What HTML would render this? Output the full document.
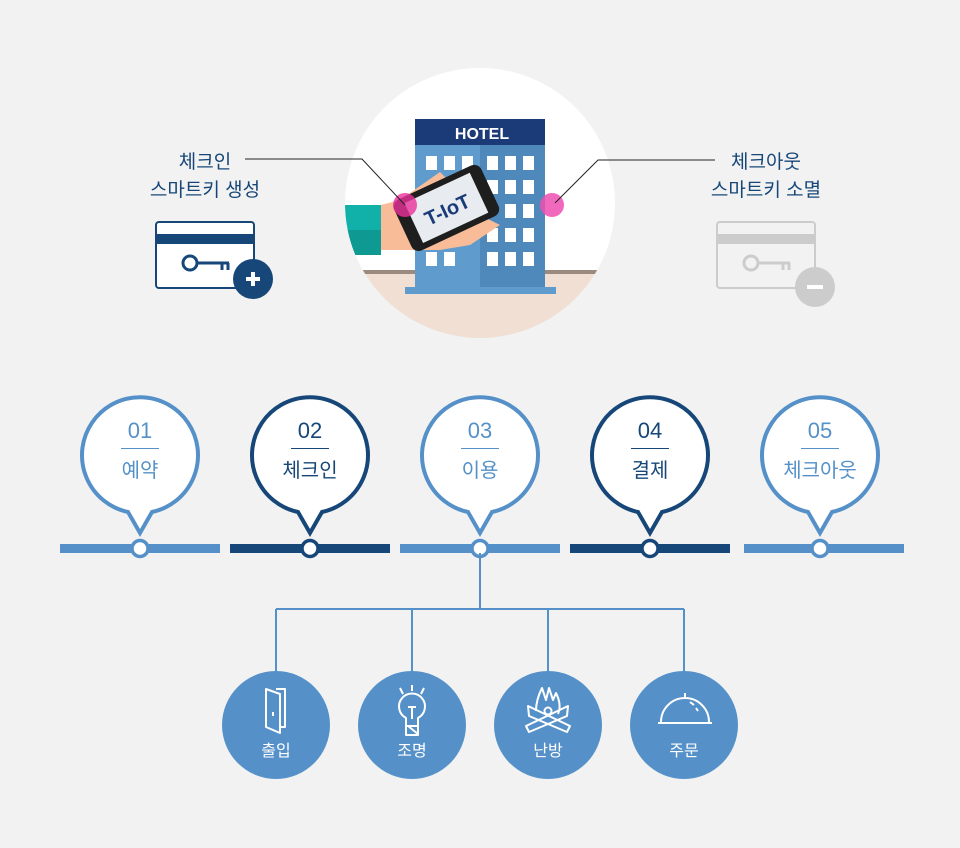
<!DOCTYPE html>
<html><head><meta charset="utf-8"><style>
html,body{margin:0;padding:0;background:#f2f2f2;}
svg{display:block;font-family:"Liberation Sans","Noto Sans CJK KR",sans-serif;}
</style></head><body>
<svg width="960" height="848" viewBox="0 0 960 848" xmlns="http://www.w3.org/2000/svg">
<rect width="960" height="848" fill="#f2f2f2"/>
<defs><clipPath id="cc"><circle cx="480" cy="203" r="135"/></clipPath></defs>
<!-- hotel circle -->
<circle cx="480" cy="203" r="135" fill="#fff"/>
<g clip-path="url(#cc)">
<rect x="340" y="271" width="290" height="80" fill="#f0dfd2"/>
<rect x="340" y="270" width="290" height="4" fill="#9a8a80"/>
<rect x="415" y="119" width="130" height="28" fill="#1b3b78"/>
<rect x="415" y="145" width="65" height="143" fill="#5f9ccd"/>
<rect x="480" y="145" width="65" height="143" fill="#4f88bb"/>
<rect x="405" y="287" width="151" height="7" fill="#5f9ccd"/>
<text x="482" y="139" font-size="16" font-weight="bold" fill="#fff" text-anchor="middle">HOTEL</text>
<g fill="#fff">
<rect x="426" y="156" width="11" height="14"/><rect x="444" y="156" width="11" height="14"/><rect x="462" y="156" width="11" height="14"/><rect x="487" y="156" width="11" height="14"/><rect x="505" y="156" width="11" height="14"/><rect x="523" y="156" width="11" height="14"/>
<rect x="487" y="180" width="11" height="14"/><rect x="505" y="180" width="11" height="14"/><rect x="523" y="180" width="11" height="14"/>
<rect x="505" y="204" width="11" height="14"/><rect x="523" y="204" width="11" height="14"/>
<rect x="487" y="228" width="11" height="14"/><rect x="505" y="228" width="11" height="14"/><rect x="523" y="228" width="11" height="14"/>
<rect x="426" y="252" width="11" height="14"/><rect x="444" y="252" width="11" height="14"/><rect x="487" y="252" width="11" height="14"/><rect x="505" y="252" width="11" height="14"/><rect x="523" y="252" width="11" height="14"/>
</g>
<rect x="345" y="205" width="36" height="50" fill="#11b0a8"/>
<rect x="345" y="230" width="36" height="25" fill="#0e9a92"/>
<path d="M381 205 L400 200 L440 172 L450 182 L430 205 L480 215 L500 225 L470 245 L440 250 L400 250 L381 250 Z" fill="#f8bd98"/>
<g transform="rotate(-25 446 207)">
<rect x="398" y="180" width="96" height="56" rx="8" fill="#1e1e1e"/>
<rect x="410" y="186" width="72" height="44" fill="#e8ecf0"/>
<text x="446" y="217" font-size="20" font-weight="bold" fill="#1b3b78" text-anchor="middle">T-IoT</text>
</g>
<circle cx="405" cy="205" r="12" fill="#e8319a" opacity="0.8"/>
<circle cx="552" cy="205" r="12" fill="#ee4fb0" opacity="0.85"/>
</g>
<!-- leader lines -->
<polyline points="245,159 362,159 405,205" fill="none" stroke="#222" stroke-width="1"/>
<polyline points="715,160 598,160 555,203" fill="none" stroke="#222" stroke-width="1"/>
<text x="205" y="168" font-size="19" fill="#164778" text-anchor="middle">체크인</text>
<text x="205" y="196" font-size="19" fill="#164778" text-anchor="middle">스마트키 생성</text>
<text x="766" y="168" font-size="19" fill="#164778" text-anchor="middle">체크아웃</text>
<text x="766" y="196" font-size="19" fill="#164778" text-anchor="middle">스마트키 소멸</text>
<!-- left card -->
<rect x="156" y="222" width="98" height="66" rx="3" fill="#fff" stroke="#164778" stroke-width="2"/>
<rect x="156" y="234" width="98" height="10" fill="#164778"/>
<circle cx="190" cy="263" r="7" fill="none" stroke="#164778" stroke-width="3"/>
<path d="M197 263 H229 M222 263 V270 M228 263 V270" stroke="#164778" stroke-width="3" fill="none"/>
<circle cx="253" cy="279" r="20" fill="#164778"/>
<path d="M246 279 H260 M253 272 V286" stroke="#fff" stroke-width="4"/>
<!-- right card -->
<rect x="717" y="222" width="98" height="66" rx="3" fill="#f2f2f2" stroke="#cccccc" stroke-width="2"/>
<rect x="717" y="234" width="98" height="10" fill="#cccccc"/>
<circle cx="751" cy="263" r="7" fill="none" stroke="#cccccc" stroke-width="3"/>
<path d="M758 263 H790 M783 263 V270 M789 263 V270" stroke="#cccccc" stroke-width="3" fill="none"/>
<circle cx="815" cy="287" r="20" fill="#cccccc"/>
<path d="M807 287 H823" stroke="#fff" stroke-width="4"/>
<!-- timeline bars -->
<rect x="60" y="544" width="160" height="9" fill="#5591c8"/>
<rect x="230" y="544" width="160" height="9" fill="#164778"/>
<rect x="400" y="544" width="160" height="9" fill="#5591c8"/>
<rect x="570" y="544" width="160" height="9" fill="#164778"/>
<rect x="744" y="544" width="160" height="9" fill="#5591c8"/>
<!-- bubbles -->
<g stroke-width="4" fill="#fff">
<g stroke="#5591c8"><path d="M128 512 A58 58 0 1 1 152 512 L140 533 Z" stroke-linejoin="miter"/></g>
<g stroke="#164778"><path d="M298 512 A58 58 0 1 1 322 512 L310 533 Z"/></g>
<g stroke="#5591c8"><path d="M468 512 A58 58 0 1 1 492 512 L480 533 Z"/></g>
<g stroke="#164778"><path d="M638 512 A58 58 0 1 1 662 512 L650 533 Z"/></g>
<g stroke="#5591c8"><path d="M808 512 A58 58 0 1 1 832 512 L820 533 Z"/></g>
</g>
<g stroke-width="3.5" fill="#fff">
<circle cx="140" cy="548.5" r="8" stroke="#5591c8"/>
<circle cx="310" cy="548.5" r="8" stroke="#164778"/>
<circle cx="480" cy="548.5" r="8" stroke="#5591c8"/>
<circle cx="650" cy="548.5" r="8" stroke="#164778"/>
<circle cx="820" cy="548.5" r="8" stroke="#5591c8"/>
</g>
<g font-size="22" text-anchor="middle" font-weight="300">
<text x="140" y="438" fill="#5591c8">01</text>
<text x="310" y="438" fill="#164778">02</text>
<text x="480" y="438" fill="#5591c8">03</text>
<text x="650" y="438" fill="#164778">04</text>
<text x="820" y="438" fill="#5591c8">05</text>
</g>
<g stroke-width="1">
<path d="M121 448.5 H159" stroke="#5591c8"/><path d="M291 448.5 H329" stroke="#164778"/><path d="M461 448.5 H499" stroke="#5591c8"/><path d="M631 448.5 H669" stroke="#164778"/><path d="M801 448.5 H839" stroke="#5591c8"/>
</g>
<g font-size="20" text-anchor="middle">
<text x="140" y="477" fill="#5591c8">예약</text>
<text x="310" y="477" fill="#164778">체크인</text>
<text x="480" y="477" fill="#5591c8">이용</text>
<text x="650" y="477" fill="#164778">결제</text>
<text x="820" y="477" fill="#5591c8">체크아웃</text>
</g>
<!-- connectors -->
<path d="M480 553 V609 M276 609 H684 M276 609 V672 M412 609 V672 M548 609 V672 M684 609 V672" stroke="#5591c8" stroke-width="2" fill="none"/>
<g fill="#5591c8">
<circle cx="276" cy="725" r="54"/><circle cx="412" cy="725" r="54"/><circle cx="548" cy="725" r="54"/><circle cx="684" cy="725" r="54"/>
</g>
<g stroke="#fff" stroke-width="2" fill="none" stroke-linejoin="round">
<path d="M276 689 H285 V727 H280 M266 689 L280 694 V733 L266 727 Z M273 712 V716"/>
<path d="M406 726 V718 A13 13 0 1 1 418 718 V726 Z M406 726 V735 H418 V726 M408 726 L418 734 M412 719 V707 M408 707 H416 M400 688 L403 694 M412 685 V691 M424 688 L421 694"/>
<path d="M536 711 Q536 700 542 688 L546 700 L549 688 L553 700 L556 693 Q562 705 558 714 M528 706 L570 726 L567 732 L529 716 Z M568 706 L526 726 L529 732 L567 716 Z"/>
<circle cx="548" cy="711" r="3.5"/>
<path d="M658 723 H712 M661 722 A24 24 0 0 1 709 722 M685 698 V693 M690 702 L694 705 M696 708 L698 711"/>
</g>
<g font-size="16" fill="#fff" text-anchor="middle">
<text x="276" y="756">출입</text><text x="412" y="756">조명</text><text x="548" y="756">난방</text><text x="684" y="756">주문</text>
</g>
</svg>
</body></html>
